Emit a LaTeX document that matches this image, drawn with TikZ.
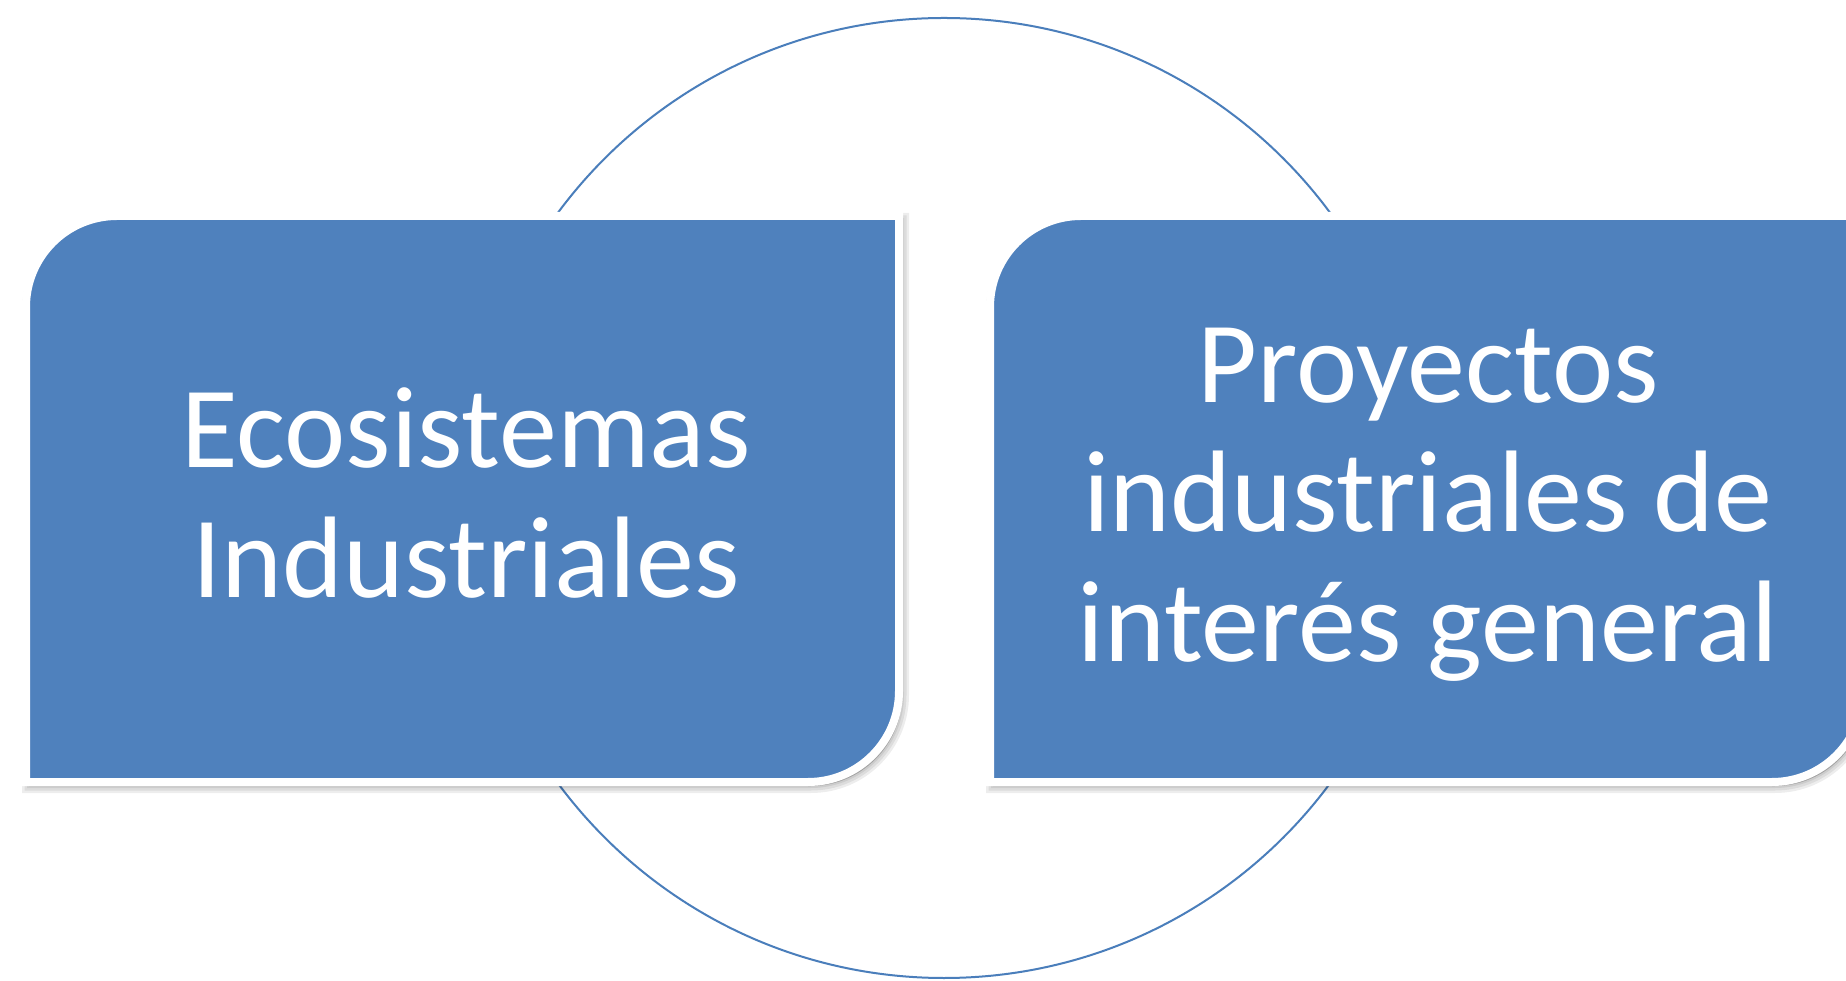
\documentclass[tikz,border=0pt]{standalone}
\usepackage{fontspec}
\setmainfont{Carlito}
\definecolor{boxblue}{HTML}{4F81BD}
\definecolor{ringblue}{HTML}{4A7EBB}
\newcommand\roundboxpath[1]{%
  (#1+91,764) -- (#1+873,764) -- (#1+873,289)
  arc[start angle=0,end angle=-90,radius=91pt] -- (#1,198) -- (#1,673)
  arc[start angle=180,end angle=90,radius=91pt] -- cycle}
\tikzset{
  boxfill/.style={fill=boxblue,draw=white,line width=8pt},
  shadowlayer/.style={fill=black,draw=black,opacity=0.07},
  ring/.style={draw=ringblue,line width=2pt},
  boxtext/.style={text=white,anchor=base,inner sep=0pt,font=\fontsize{116}{130}\selectfont}
}
\begin{document}
\begin{tikzpicture}[x=1pt,y=1pt]
\useasboundingbox (0,0) rectangle (1846,980);
\fill[white] (0,0) rectangle (1846,980);
\draw[ring] (944,482) circle[radius=480pt];
\foreach \sx in {26,990}{
  \begin{scope}[shift={(3,-4)}]
    \path[shadowlayer,line width=14pt] \roundboxpath{\sx};
    \path[shadowlayer,line width=9pt] \roundboxpath{\sx};
    \path[shadowlayer,line width=4pt] \roundboxpath{\sx};
  \end{scope}
  \path[boxfill] \roundboxpath{\sx};
}
\node[boxtext] (e1) at (466,512) {Ecosistemas};
\node[boxtext] (e2) at (466,382) {Industriales};
\node[boxtext] (p1) at (1428,577) {Proyectos};
\node[boxtext] (p2) at (1428,448) {industriales de};
\node[boxtext] (p3) at (1428,318) {interés general};
\end{tikzpicture}
\end{document}
